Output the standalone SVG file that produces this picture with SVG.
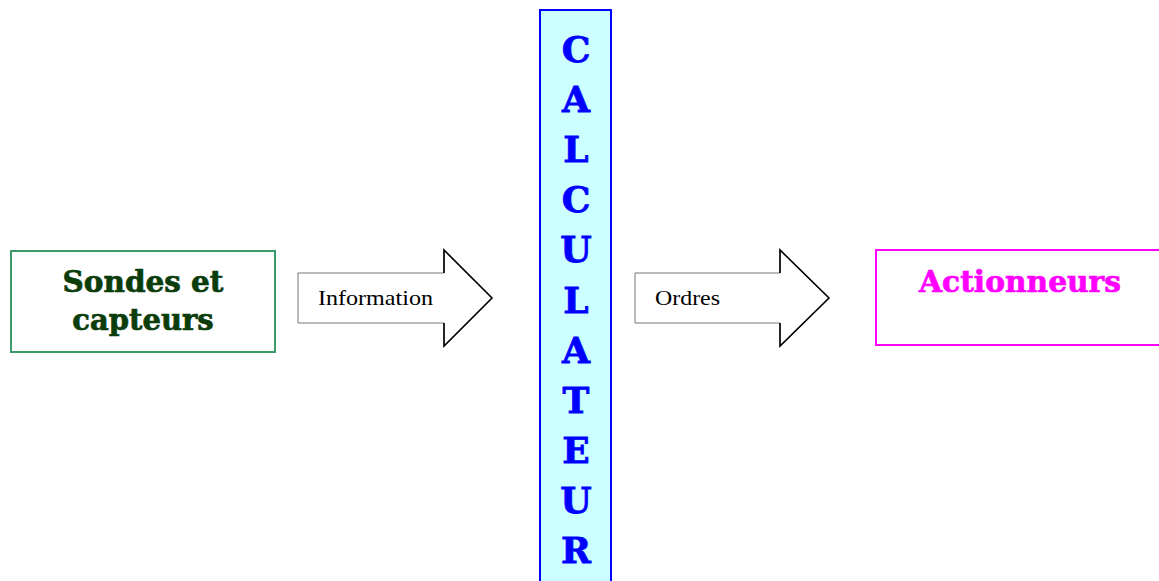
<svg xmlns="http://www.w3.org/2000/svg" width="1159" height="581" viewBox="0 0 1159 581">
<style>
.bt{font-family:"DejaVu Serif","Liberation Serif",serif;font-weight:bold;stroke-width:0.7}
.lbl{font-family:"Liberation Serif",serif;font-size:22px;fill:#000}
.body{fill:#fff;stroke:#777;stroke-width:1}
.head{fill:none;stroke:#000;stroke-width:1.6}
.cl{font-family:"DejaVu Serif","Liberation Serif",serif;font-weight:bold;font-size:36px;fill:#0000ff;stroke:#0000ff;stroke-width:0.8;text-anchor:middle}
</style>
<rect width="1159" height="581" fill="#fff"/>
<g id="sondes">
<rect x="11" y="251" width="264" height="101" fill="#fff" stroke="#3a9a6a" stroke-width="2"/>
<text class="bt" x="143" y="292" font-size="29" fill="#0b3d0b" stroke="#0b3d0b" text-anchor="middle" textLength="161" lengthAdjust="spacingAndGlyphs">Sondes et</text>
<text class="bt" x="143" y="330" font-size="29" fill="#0b3d0b" stroke="#0b3d0b" text-anchor="middle">capteurs</text>
</g>
<g id="connectors">
<g id="information">
<polygon class="body" points="298,273 444,273 444,250 492,298 444,346 444,323 298,323"/>
<polyline class="head" points="444,273 444,250 492,298 444,346 444,323"/>
<text class="lbl" x="318" y="305" textLength="115" lengthAdjust="spacingAndGlyphs">Information</text>
</g>
<g id="ordres">
<polygon class="body" points="635,273 780,273 780,250 829,298 780,346 780,323 635,323"/>
<polyline class="head" points="780,273 780,250 829,298 780,346 780,323"/>
<text class="lbl" x="655" y="305" textLength="65" lengthAdjust="spacingAndGlyphs">Ordres</text>
</g>
</g>
<g id="calculateur">
<rect x="540" y="10" width="71" height="575" fill="#ccffff" stroke="#0000ff" stroke-width="2"/>
<text class="cl" x="576" y="62">C</text>
<text class="cl" x="576" y="112">A</text>
<text class="cl" x="576" y="162">L</text>
<text class="cl" x="576" y="212">C</text>
<text class="cl" x="576" y="262">U</text>
<text class="cl" x="576" y="313">L</text>
<text class="cl" x="576" y="363">A</text>
<text class="cl" x="576" y="413">T</text>
<text class="cl" x="576" y="463">E</text>
<text class="cl" x="576" y="513">U</text>
<text class="cl" x="576" y="563">R</text>
</g>
<g id="actionneurs">
<rect x="876" y="250" width="290" height="95" fill="#fff" stroke="#ff00ff" stroke-width="2"/>
<text class="bt" x="1020" y="292" font-size="30" fill="#ff00ff" stroke="#ff00ff" text-anchor="middle" textLength="202" lengthAdjust="spacingAndGlyphs">Actionneurs</text>
</g>
</svg>
